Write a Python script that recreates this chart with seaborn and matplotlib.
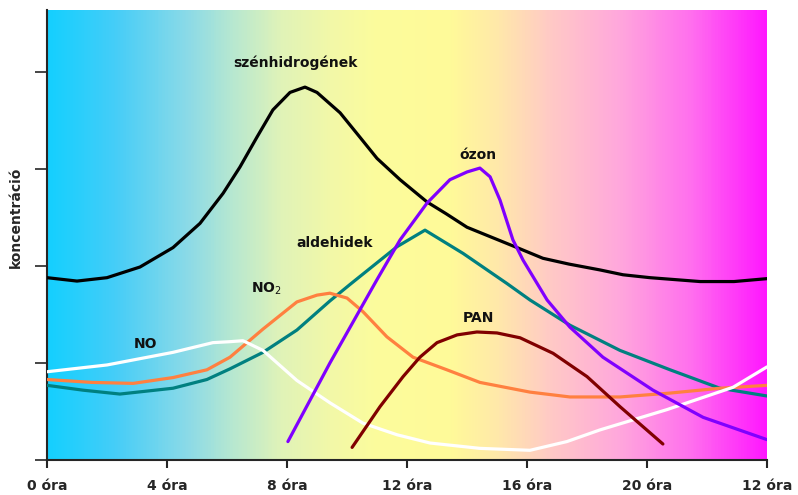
import numpy as np
import pandas as pd
import matplotlib
matplotlib.use('Agg')
import matplotlib.pyplot as plt
from matplotlib.colors import LinearSegmentedColormap
import seaborn as sns

# adatok (ora, koncentracio) a kepről leolvasva
szen_t = [0, 1.0, 2.0, 3.1, 4.2, 5.1, 5.87, 6.43, 7.0, 7.53, 8.1, 8.6, 9.0, 9.77, 10.4, 11.0, 11.77,
          12.67, 13.3, 14.0, 15.67, 16.53, 17.4, 18.43, 19.2, 20.1, 21.77, 22.9, 24]
szen_v = [1.88, 1.845, 1.88, 1.99, 2.19, 2.44, 2.75, 3.02, 3.33, 3.61, 3.79, 3.845, 3.79, 3.58, 3.34, 3.11, 2.89,
          2.66, 2.54, 2.40, 2.19, 2.08, 2.02, 1.96, 1.91, 1.88, 1.84, 1.84, 1.87]

ozon_t = [8.03, 9.43, 11.0, 11.77, 12.67, 13.43, 14.0, 14.43, 14.77, 15.1, 15.53, 15.87, 16.67, 17.43, 18.53, 20.2, 21.87, 24]
ozon_v = [0.19, 1.0, 1.86, 2.27, 2.65, 2.89, 2.97, 3.01, 2.92, 2.68, 2.27, 2.06, 1.65, 1.37, 1.06, 0.72, 0.44, 0.21]

ald_t = [0, 1.2, 2.43, 4.2, 5.33, 6.1, 7.2, 8.33, 9.43, 10.1, 11.67, 12.6, 13.87, 15.33, 16.1, 17.43, 19.1, 20.77, 22.43, 24]
ald_v = [0.77, 0.72, 0.68, 0.74, 0.83, 0.94, 1.11, 1.34, 1.64, 1.81, 2.20, 2.37, 2.13, 1.82, 1.65, 1.39, 1.13, 0.93, 0.74, 0.66]

no2_t = [0, 1.5, 2.87, 4.2, 5.33, 6.1, 7.2, 8.33, 9.0, 9.43, 10.0, 10.53, 11.33, 12.2, 13.33, 14.43, 16.1, 17.43, 19.1, 20.77, 22.43, 24]
no2_v = [0.83, 0.80, 0.79, 0.85, 0.93, 1.06, 1.35, 1.63, 1.70, 1.72, 1.67, 1.53, 1.27, 1.06, 0.93, 0.80, 0.70, 0.65, 0.65, 0.69, 0.74, 0.77]

no_t = [0, 2, 4.2, 5.53, 6.1, 6.53, 7.2, 8.33, 9.43, 10.53, 11.67, 12.77, 14.43, 16.1, 17.33, 18.43, 20.67, 22.87, 24]
no_v = [0.91, 0.98, 1.11, 1.21, 1.22, 1.23, 1.13, 0.82, 0.59, 0.38, 0.26, 0.175, 0.12, 0.10, 0.19, 0.31, 0.52, 0.75, 0.96]

pan_t = [10.17, 11.1, 11.87, 12.43, 13.0, 13.67, 14.33, 15.0, 15.77, 16.87, 18.0, 19.1, 20.53]
pan_v = [0.13, 0.55, 0.86, 1.06, 1.21, 1.29, 1.32, 1.31, 1.26, 1.10, 0.86, 0.55, 0.165]

xtick_pos = [0, 4, 8, 12, 16, 20, 24]
xtick_labels = ['0 óra', '4 óra', '8 óra', '12 óra', '16 óra', '20 óra', '12 óra']

# hatter szinatmenet (ora, szin)
grad_t = [0, 2.17, 4.6, 6.2, 7.8, 9.43, 11.03, 13.47, 15.07, 16.67, 19.1, 21.5, 24]
grad_c = ['#14D0FF', '#44CDF8', '#8ADAE8', '#B8E8D0', '#E0F3B8', '#F2F8A8', '#FCFC9C',
          '#FFFA99', '#FFE8AA', '#FFCCC4', '#FFA8DC', '#FF70EE', '#FF18FF']

sns.set_style('ticks')
plt.rcParams['font.family'] = ['DejaVu Sans']

fig = plt.figure(figsize=(7.98, 4.95), dpi=100)
ax = fig.add_axes([47/798, 35/495, 720/798, 450/495])

ytop = 4.64
cmap = LinearSegmentedColormap.from_list('bg', list(zip([t/24 for t in grad_t], grad_c)))
ax.imshow(np.linspace(0, 1, 500).reshape(1, -1), cmap=cmap, aspect='auto',
          extent=[0, 24, 0, ytop], zorder=0)

series = [
    (szen_t, szen_v, '#000000'),
    (ald_t, ald_v, '#008080'),
    (no2_t, no2_v, '#FF8040'),
    (no_t, no_v, '#FFFFFF'),
    (pan_t, pan_v, '#800000'),
    (ozon_t, ozon_v, '#8000FF'),
]
for t, v, c in series:
    df = pd.DataFrame({'ora': t, 'konc': v})
    sns.lineplot(data=df, x='ora', y='konc', color=c, linewidth=2.3, ax=ax, zorder=3)

lab = dict(fontsize=10, fontweight='bold', color='#111111', ha='center', va='center', zorder=4)
ax.text(8.27, 4.10, 'szénhidrogének', **lab)
ax.text(14.37, 3.14, 'ózon', **lab)
ax.text(9.6, 2.24, 'aldehidek', **lab)
ax.text(7.3, 1.77, 'NO$_2$', **lab)
ax.text(3.27, 1.20, 'NO', **lab)
ax.text(14.37, 1.46, 'PAN', **lab)

ax.set_xlim(0, 24)
ax.set_ylim(0, ytop)
ax.set_xticks(xtick_pos)
ax.set_xticklabels(xtick_labels, fontsize=10, fontweight='bold')
ax.set_yticks([0, 1, 2, 3, 4])
ax.set_yticklabels([])
ax.tick_params(axis='x', length=6, width=1.5, pad=8)
ax.tick_params(axis='y', length=9, width=1.2)
ax.set_xlabel('')
ax.set_ylabel('koncentráció', fontsize=10, fontweight='bold')
ax.yaxis.set_label_coords(-0.033, 0.54)
for s in ['top', 'right']:
    ax.spines[s].set_visible(False)
ax.spines['left'].set_linewidth(1.5)
ax.spines['bottom'].set_linewidth(1.5)

fig.savefig('out.png', dpi=100)
